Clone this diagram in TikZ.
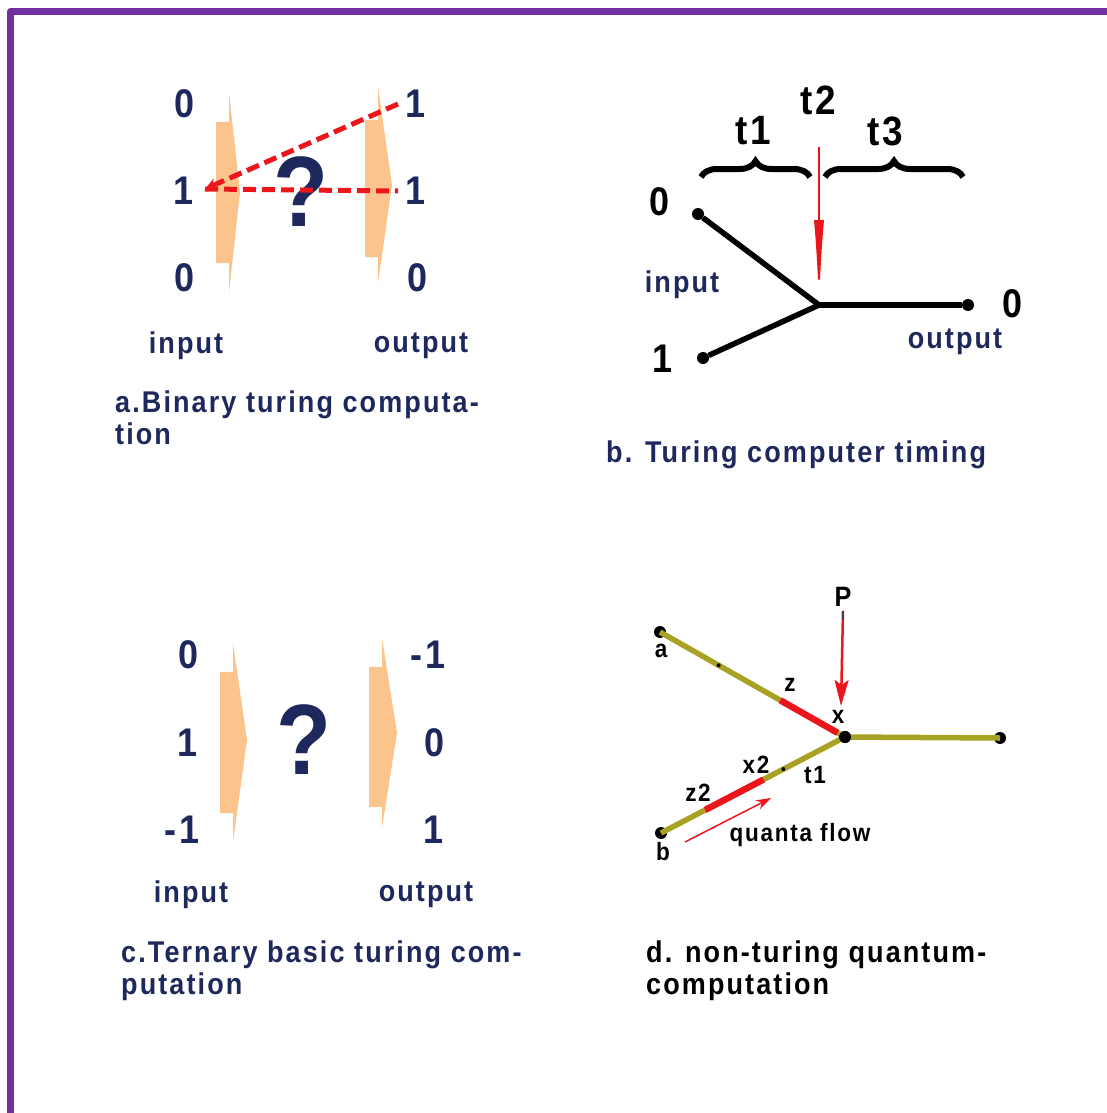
\documentclass[tikz,border=0pt]{standalone}
\usepackage{fontspec}
\setmainfont{Liberation Sans}[LetterSpace=7, FakeStretch=0.9]
\usetikzlibrary{arrows.meta,decorations.pathreplacing,calc}
\definecolor{navy}{RGB}{30,40,92}
\definecolor{purp}{RGB}{112,48,160}
\definecolor{orng}{RGB}{250,196,140}
\definecolor{rd}{RGB}{235,22,28}
\definecolor{olv}{RGB}{168,162,36}
\tikzset{
  dig/.style={font=\fontsize{40}{40}\selectfont\bfseries, text=navy, inner sep=0pt},
  bdig/.style={font=\fontsize{40}{40}\selectfont\bfseries, text=black, inner sep=0pt},
  tlab/.style={font=\fontsize{41}{41}\selectfont\bfseries, text=black, inner sep=0pt},
  io/.style={font=\fontsize{30}{30}\selectfont\bfseries, text=navy, inner sep=0pt},
  capt/.style={font=\fontsize{30}{32}\selectfont\bfseries, text=navy, inner sep=0pt, align=left, anchor=north west},
  qmark/.style={font=\fontsize{100}{100}\selectfont\bfseries, text=navy, inner sep=0pt},
  dlab/.style={font=\fontsize{25}{25}\selectfont\bfseries, text=black, inner sep=0pt},
  bdot/.style={circle, fill=black, inner sep=0pt, minimum size=12pt},
  tickdot/.style={circle, fill=black, inner sep=0pt, minimum size=4pt},
  orarrow/.style={fill=orng, draw=none},
  reddash/.style={rd, line width=5pt, dash pattern=on 13pt off 6pt},
  blk/.style={black, line width=5.5pt},
  olvline/.style={olv, line width=5.5pt},
  redseg/.style={rd, line width=6.5pt},
  brc/.style={decorate, decoration={brace, amplitude=16pt}, line width=6pt},
}
\begin{document}
\begin{tikzpicture}[x=1pt,y=-1pt]
\useasboundingbox (0,0) rectangle (1107,1113);
\fill[white] (0,0) rectangle (1107,1113);
% purple frame
\draw[purp, line width=7pt, line join=round] (10.5,1113) -- (10.5,11.5) -- (1107,11.5);

% ---------- panel a ----------
\fill[orarrow] (216,122)--(229,122)--(229,93)--(240,192)--(229,292)--(229,263)--(216,263)--cycle;
\fill[orarrow] (365,120)--(378,120)--(378,87)--(392,185)--(378,283)--(378,257)--(365,257)--cycle;
\node[dig] (a0) at (185,104) {0};
\node[dig] (a1) at (184,191) {1};
\node[dig] (a2) at (185,278) {0};
\node[dig] (b0) at (416,104) {1};
\node[dig] (b1) at (416,191) {1};
\node[dig] (b2) at (418,278) {0};
\node[qmark] (aq) at (301,192) {?};
\coordinate (aL) at (205,189);
\coordinate (aU) at (398,104);
\coordinate (aR) at (398,191);
\draw[reddash, -{Stealth[length=12pt,width=12pt]}] (aU) -- (aL);
\draw[reddash] (aL) -- (aR);
\node[io] (ain) at (186,346) {input};
\node[io] (aout) at (421,346) {output};
\node[capt] (acap) at (115,391) {a.Binary turing computa-\\tion};

% ---------- panel b ----------
\coordinate (bJ) at (819,305);
\node[bdot] (bi0) at (698,214) {};
\node[bdot] (bi1) at (703,358) {};
\node[bdot] (bo) at (968,305) {};
\draw[blk] (bi0) -- (bJ);
\draw[blk] (bi1) -- (bJ);
\draw[blk] (bJ) -- (bo);
\coordinate (bT) at (819,147);
\draw[rd, line width=2pt, -{Latex[length=85pt,width=10pt]}] (bT) -- (bJ);
\draw[brc] (701,177) -- (810,177);
\draw[brc] (825,177) -- (963,177);
\node[tlab] (t1) at (753,131) {t1};
\node[tlab] (t2) at (818,100) {t2};
\node[tlab] (t3) at (885,131) {t3};
\node[bdig] (bl0) at (660,202) {0};
\node[bdig] (bl1) at (663,359) {1};
\node[bdig] (br0) at (1012,304) {0};
\node[io] (bin) at (682,285) {input};
\node[io] (bout) at (955,342) {output};
\node[capt, anchor=west] (bcap) at (606,455) {b. Turing computer timing};

% ---------- panel c ----------
\fill[orarrow] (220,672)--(233,672)--(233,643)--(247,740)--(233,842)--(233,813)--(220,813)--cycle;
\fill[orarrow] (369,667)--(382,667)--(382,638)--(397,733)--(382,828)--(382,807)--(369,807)--cycle;
\node[dig] (c0) at (189,655) {0};
\node[dig] (c1) at (188,743) {1};
\node[dig] (c2) at (182,830) {-1};
\node[dig] (d0) at (428,655) {-1};
\node[dig] (d1) at (435,743) {0};
\node[dig] (d2) at (434,830) {1};
\node[qmark] (cq) at (304,740) {?};
\node[io] (cin) at (191,895) {input};
\node[io] (cout) at (426,895) {output};
\node[capt] (ccap) at (121,941) {c.Ternary basic turing com-\\putation};

% ---------- panel d ----------
\node[bdot] (dA) at (660,632) {};
\node[bdot] (dX) at (845,737) {};
\node[bdot] (dR) at (1000,738) {};
\node[bdot] (dB) at (661,833) {};
\draw[olvline] (dA.center) -- (dX.center);
\draw[olvline] (dB.center) -- (dX.center);
\draw[olvline] (dX.center) -- (dR.center);
\draw[redseg] ($(dA.center)!0.65!(dX.center)$) -- ($(dA.center)!0.96!(dX.center)$);
\draw[redseg] ($(dB.center)!0.24!(dX.center)$) -- ($(dB.center)!0.557!(dX.center)$);
\node[tickdot] (tk1) at ($(dA.center)!0.317!(dX.center)$) {};
\node[tickdot] (tk2) at ($(dB.center)!0.665!(dX.center)$) {};
\node[bdot] at (dX) {};
\node[dlab, font=\fontsize{28}{28}\selectfont\bfseries] (P) at (843,597) {P};
\coordinate (Pend) at (841,706);
\draw[rd, line width=2.5pt, -{Stealth[length=26pt,width=14pt,inset=5pt]}] ([yshift=-4pt]P.south) -- (Pend);
\draw[black!75, line width=2.5pt] ([yshift=-4pt]P.south) -- ++(0,9);
\node[dlab] (la) at (661,651) {a};
\node[dlab] (lb) at (663,852) {b};
\node[dlab] (lz) at (790,685) {z};
\node[dlab] (lx) at (838,717) {x};
\node[dlab] (lx2) at (756,765) {x2};
\node[dlab] (lt1) at (815,775) {t1};
\node[dlab] (lz2) at (698,793) {z2};
\node[dlab] (lq) at (800,835) {quanta flow};
\coordinate (qs) at (685,842);
\coordinate (qe) at (771,798);
\draw[rd, line width=1.5pt, -{Stealth[length=15pt,width=10pt]}] (qs) -- (qe);
\node[capt, text=black] (dcap) at (646,941) {d. non-turing quantum-\\computation};
\end{tikzpicture}
\end{document}
